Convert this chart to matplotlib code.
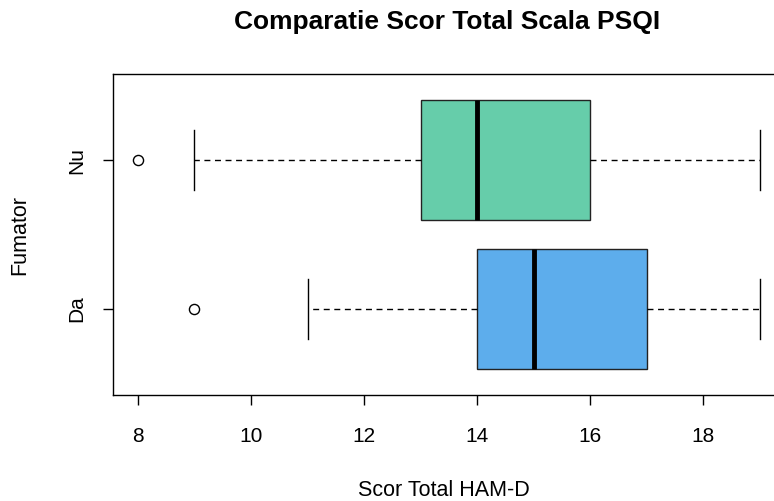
import matplotlib
matplotlib.use("Agg")
import matplotlib.pyplot as plt

plt.rcParams['font.family'] = ['Liberation Sans', 'DejaVu Sans']

categories = ["Da", "Nu"]
whisker_low = [11, 9]
q1 = [14, 13]
medians = [15, 14]
q3 = [17, 16]
whisker_high = [19, 19]
outliers = [[9], [8]]
colors = ["#5DADEC", "#66CDAA"]
xticks = [8, 10, 12, 14, 16, 18]

fig = plt.figure(figsize=(7.74, 5.01), dpi=100)
ax = fig.add_axes([0.146, 0.2106, 0.868, 0.6425])

stats = []
for i, c in enumerate(categories):
    stats.append(dict(label=c, whislo=whisker_low[i], q1=q1[i], med=medians[i],
                      q3=q3[i], whishi=whisker_high[i], fliers=outliers[i]))

bp = ax.bxp(stats, positions=[1, 2], widths=0.8, orientation='horizontal',
            patch_artist=True, showfliers=True,
            boxprops=dict(edgecolor='#222222', linewidth=1.0),
            medianprops=dict(color='black', linewidth=3.5, solid_capstyle='butt'),
            whiskerprops=dict(color='black', linestyle=(0, (4.3, 3.3)), linewidth=1.0),
            capprops=dict(color='black', linewidth=1.0),
            flierprops=dict(marker='o', markerfacecolor='none', markeredgecolor='black',
                            markersize=7.3, markeredgewidth=1.0),
            capwidths=0.4)
for patch, col in zip(bp['boxes'], colors):
    patch.set_facecolor(col)

ax.set_xlim(7.56, 19.44)
ax.set_ylim(0.42, 2.58)
ax.set_xticks(xticks)
ax.set_xticklabels([str(t) for t in xticks], fontsize=15)
ax.set_yticks([1, 2])
ax.set_yticklabels(categories, fontsize=15, rotation=90, va='center')
ax.tick_params(axis='x', length=7, width=1.0, pad=16)
ax.tick_params(axis='y', length=7, width=1.0, pad=12)
for s in ax.spines.values():
    s.set_linewidth(1.0)

fig.text(0.574, 1 - 490 / 501, "Scor Total HAM-D", fontsize=15.5, ha='center', va='center')
fig.text(20 / 774, 0.5 * (0.2106 + 0.853), "Fumator", fontsize=15.5, ha='center',
         va='center', rotation=90)
fig.text(0.578, 1 - 22 / 501, "Comparatie Scor Total Scala PSQI", fontsize=19,
         fontweight='bold', ha='center', va='center')

fig.savefig("out.png", dpi=100)
